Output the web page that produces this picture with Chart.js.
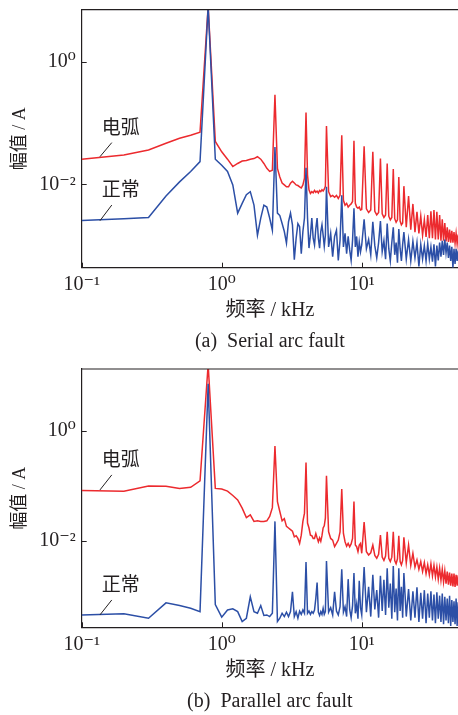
<!DOCTYPE html>
<html>
<head>
<meta charset="utf-8">
<script src="https://cdn.jsdelivr.net/npm/chart.js@4.4.1/dist/chart.umd.min.js"></script>
<style>
  html, body { margin: 0; padding: 0; background: #fff; }
  #wrap { width: 458px; height: 715px; overflow: hidden; }
  canvas { display: block; }
</style>
</head>
<body>
<div id="wrap">
  <canvas id="serialChart" width="458" height="360"></canvas>
  <canvas id="parallelChart" width="458" height="360"></canvas>
</div>
<script>
// frequency bins (kHz), shared by all four spectra
const freqKHz = [
  0.1, 0.2, 0.3, 0.4, 0.5, 0.6, 0.7, 0.8, 0.9, 1.0,
  1.1, 1.2, 1.3, 1.4, 1.5, 1.6, 1.7, 1.8, 1.9, 2.0,
  2.1, 2.2, 2.3, 2.4, 2.5, 2.6, 2.7, 2.8, 2.9, 3.0,
  3.1, 3.2, 3.3, 3.4, 3.5, 3.6, 3.7, 3.8, 3.9, 4.0,
  4.1, 4.2, 4.3, 4.4, 4.5, 4.6, 4.7, 4.8, 4.9, 5.0,
  5.1, 5.2, 5.3, 5.4, 5.5, 5.6,
  5.8, 6.0, 6.2, 6.4, 6.6, 6.8, 7.0, 7.2, 7.4, 7.6, 7.8,
  8.0, 8.2, 8.4, 8.6, 8.8, 9.0, 9.2, 9.4, 9.6, 9.8, 10.0,
  10.4, 10.8, 11.2, 11.6, 12.0, 12.4, 12.8, 13.2, 13.6, 14.0, 14.4, 14.8,
  15.2, 15.6, 16.0, 16.4, 16.8, 17.2, 17.6, 18.0, 18.4, 18.8, 19.2, 19.6, 20.0,
  20.8, 21.6, 22.4, 23.2, 24.0, 24.8, 25.6, 26.4, 27.2, 28.0, 28.8, 29.6,
  30.4, 31.2, 32.0, 32.8, 33.6, 34.4, 35.2, 36.0, 36.8, 37.6, 38.4, 39.2,
  40.0, 40.8, 41.6, 42.4, 43.2, 44.0, 44.8, 45.6, 46.4, 47.2, 48.0, 48.8, 49.6,
];

// amplitudes as log10(A)
// (a) serial arc fault
const serialArcLog = [
  -1.59, -1.52, -1.44, -1.33, -1.25, -1.20, -1.15, 0.9, -1.30, -1.47,
  -1.59, -1.71, -1.66, -1.62, -1.61, -1.59, -1.58, -1.55, -1.59, -1.66,
  -1.74, -1.79, -1.77, -0.54, -1.74, -1.88, -1.98, -2.01, -2.04, -2.04,
  -1.98, -1.95, -1.98, -2.01, -2.02, -2.04, -2.06, -2.01, -1.90, -0.83,
  -1.85, -2.09, -2.15, -2.12, -2.14, -2.10, -2.13, -2.11, -2.14, -2.10,
  -2.12, -2.09, -2.11, -2.08, -2.03, -1.05,
  -2.12, -2.20, -2.18, -2.21, -2.18, -2.23, -2.18, -1.20, -2.26, -2.34, -2.31,
  -2.37, -2.34, -2.32, -2.28, -1.29, -2.31, -2.37, -2.39, -2.37, -2.42, -2.41,
  -1.38, -2.40, -2.46, -2.42, -1.47, -2.44, -2.50, -2.46, -1.58, -2.48, -2.54, -2.50,
  -1.66, -2.52, -2.58, -2.54, -1.75, -2.56, -2.62, -2.58, -1.88, -2.60, -2.66, -2.63, -2.03,
  -2.70, -2.19, -2.74, -2.32, -2.78, -2.45, -2.80, -2.52, -2.83, -2.58, -2.86, -2.50,
  -2.88, -2.44, -2.88, -2.42, -2.90, -2.45, -2.90, -2.50, -2.92, -2.57, -2.92, -2.63,
  -2.93, -2.70, -2.94, -2.74, -2.95, -2.76, -2.95, -2.78, -2.96, -2.80, -2.97, -2.82, -2.97,
];
const serialNormalLog = [
  -2.59, -2.56, -2.54, -2.19, -1.96, -1.79, -1.63, 0.9, -1.59, -1.69,
  -1.79, -2.01, -2.47, -2.31, -2.17, -2.12, -2.34, -2.83, -2.55, -2.34,
  -2.37, -2.55, -2.75, -1.39, -2.47, -2.51, -2.64, -2.77, -2.96, -2.61,
  -2.47, -2.66, -3.23, -2.88, -2.64, -2.69, -3.13, -2.77, -2.55, -1.73,
  -2.55, -3.04, -2.83, -2.55, -2.88, -2.99, -2.72, -2.55, -2.88, -3.04,
  -2.77, -2.66, -2.83, -3.01, -2.83, -2.04,
  -3.02, -2.80, -3.18, -2.85, -2.75, -3.24, -2.91, -2.18, -3.02, -2.80, -3.13,
  -2.85, -3.07, -3.24, -2.91, -2.39, -3.02, -2.85, -3.18, -2.94, -3.10, -2.99,
  -2.57, -3.05, -2.90, -3.15, -2.61, -3.00, -3.20, -2.95, -2.60, -3.10, -2.92, -3.22,
  -2.64, -3.05, -3.25, -2.95, -2.70, -3.15, -2.95, -3.28, -2.73, -3.05, -3.25, -2.98, -2.78,
  -3.22, -2.90, -3.25, -2.93, -3.20, -2.95, -3.34, -2.98, -3.22, -3.00, -3.25, -2.97,
  -3.22, -3.02, -3.26, -2.98, -3.34, -3.00, -3.24, -2.95, -3.18, -2.92, -3.15, -2.90,
  -3.12, -2.95, -3.20, -3.00, -3.25, -3.02, -3.36, -3.05, -3.30, -3.05, -3.25, -3.08, -3.15,
];
// (b) parallel arc fault
const parallelArcLog = [
  -1.09, -1.10, -1.005, -1.01, -1.05, -1.03, -0.915, 1.2, -1.05, -1.06,
  -1.10, -1.18, -1.26, -1.41, -1.58, -1.53, -1.65, -1.64, -1.65, -1.65,
  -1.64, -1.56, -1.40, -0.28, -1.29, -1.47, -1.64, -1.60, -1.74, -1.77,
  -1.80, -1.83, -1.93, -1.91, -1.96, -2.05, -1.90, -1.65, -1.50, -0.58,
  -1.68, -1.77, -1.90, -1.91, -1.96, -1.96, -1.87, -1.95, -2.02, -1.95,
  -2.01, -1.91, -1.77, -1.73, -1.59, -0.82,
  -1.84, -1.96, -1.99, -2.11, -2.05, -1.99, -1.84, -1.06, -1.87, -2.02, -2.10,
  -2.05, -2.11, -2.06, -1.96, -1.29, -2.08, -2.11, -2.20, -2.08, -2.05, -2.23,
  -1.66, -2.20, -2.26, -2.22, -2.08, -2.27, -2.32, -2.25, -1.90, -2.30, -2.36, -2.28,
  -1.84, -2.32, -2.38, -2.30, -1.84, -2.36, -2.42, -2.33, -1.91, -2.38, -2.44, -2.36, -1.94,
  -2.40, -2.08, -2.45, -2.23, -2.48, -2.35, -2.52, -2.38, -2.56, -2.40, -2.60, -2.44,
  -2.62, -2.42, -2.64, -2.45, -2.66, -2.48, -2.70, -2.50, -2.72, -2.52, -2.75, -2.55,
  -2.78, -2.56, -2.80, -2.58, -2.82, -2.60, -2.83, -2.60, -2.84, -2.62, -2.82, -2.63, -2.70,
];
const parallelNormalLog = [
  -3.35, -3.33, -3.41, -3.13, -3.18, -3.23, -3.29, 0.85, -3.16, -3.39,
  -3.26, -3.24, -3.29, -3.47, -3.41, -3.02, -3.29, -3.32, -3.18, -3.36,
  -3.35, -3.38, -3.32, -1.65, -3.47, -3.41, -3.32, -3.38, -3.30, -3.38,
  -3.29, -2.93, -3.38, -3.29, -3.41, -3.28, -3.34, -3.26, -3.32, -2.39,
  -3.32, -3.28, -3.34, -3.29, -3.32, -3.26, -3.05, -2.76, -3.30, -3.36,
  -3.29, -3.34, -3.23, -3.34, -3.29, -2.37,
  -3.30, -3.22, -3.35, -2.93, -3.28, -3.35, -3.20, -2.52, -3.30, -3.20, -3.38,
  -2.70, -3.25, -3.40, -3.18, -2.59, -3.32, -3.15, -3.42, -2.73, -3.22, -3.35,
  -2.48, -3.30, -2.84, -3.38, -2.62, -3.25, -2.90, -3.40, -2.64, -3.28, -2.71, -3.35,
  -2.50, -3.22, -2.78, -3.42, -2.46, -3.30, -2.87, -3.45, -2.50, -3.28, -2.84, -3.40, -2.59,
  -3.38, -2.88, -3.45, -2.92, -3.40, -2.85, -3.48, -2.95, -3.42, -2.90, -3.50, -2.96,
  -3.40, -2.92, -3.45, -2.98, -3.50, -2.94, -3.42, -3.00, -3.48, -2.96, -3.52, -3.02,
  -3.45, -3.05, -3.50, -3.00, -3.55, -3.08, -3.48, -3.10, -3.52, -3.05, -3.55, -3.12, -3.30,
];

const seriesNames = ["电弧", "正常"];
const xTickValues = [0.1, 1, 10];
const xTickLabels = ["10⁻¹", "10⁰", "10¹"];
const yTickValues = [0.01, 1];
const yTickLabels = ["10⁻²", "10⁰"];

const RED = "#ec2a2e";
const BLUE = "#2c4fa6";
const INK = "#231f20";
const SERIF = "'Liberation Serif', 'DejaVu Serif', serif";
const MIXED = "'Liberation Serif', 'Noto Sans CJK SC', serif";
const CJK = "'Noto Sans CJK SC', sans-serif";

function toPoints(logs) {
  return freqKHz.map((f, i) => ({ x: f, y: Math.pow(10, logs[i]) }));
}

function labelFor(values, labels, v) {
  const i = values.findIndex((t) => Math.abs(t - v) < 1e-9);
  return i >= 0 ? labels[i] : "";
}

// top frame, inward tick marks, leader notes and caption
const extrasPlugin = {
  id: "extras",
  afterDraw(chart, args, opts) {
    const { ctx, chartArea: a, scales } = chart;
    ctx.save();
    ctx.strokeStyle = INK;
    ctx.lineWidth = 1.2;
    ctx.beginPath();
    ctx.moveTo(a.left, a.top);
    ctx.lineTo(a.right, a.top);
    ctx.stroke();

    ctx.lineWidth = 1;
    scales.x.ticks.forEach((t) => {
      const px = Math.round(scales.x.getPixelForValue(t.value)) + 0.5;
      ctx.beginPath();
      ctx.moveTo(px, a.bottom);
      ctx.lineTo(px, a.bottom - 5);
      ctx.stroke();
    });
    scales.y.ticks.forEach((t) => {
      const py = Math.round(scales.y.getPixelForValue(t.value)) + 0.5;
      ctx.beginPath();
      ctx.moveTo(a.left, py);
      ctx.lineTo(a.left + 5, py);
      ctx.stroke();
    });

    ctx.fillStyle = INK;
    ctx.font = "19px " + CJK;
    ctx.textAlign = "left";
    ctx.textBaseline = "middle";
    opts.notes.forEach((n) => {
      const x0 = scales.x.getPixelForValue(n.from[0]);
      const y0 = scales.y.getPixelForValue(n.from[1]);
      const x1 = scales.x.getPixelForValue(n.to[0]);
      const y1 = scales.y.getPixelForValue(n.to[1]);
      ctx.beginPath();
      ctx.moveTo(x0, y0);
      ctx.lineTo(x1, y1);
      ctx.stroke();
      ctx.fillText(n.text, x1 - 10, y1 - 16);
    });

    ctx.font = "20px " + SERIF;
    ctx.textAlign = "center";
    ctx.fillText(opts.caption, (a.left + a.right) / 2, a.bottom + 74);
    ctx.restore();
  },
};

function makePanel(id, arcLog, normalLog, yExp, topPx, bottomPx, caption, notes) {
  new Chart(document.getElementById(id), {
    type: "line",
    data: {
      datasets: [
        {
          label: seriesNames[1],
          data: toPoints(normalLog),
          borderColor: BLUE,
          borderWidth: 1.5,
          pointRadius: 0,
          tension: 0,
          order: 0,
        },
        {
          label: seriesNames[0],
          data: toPoints(arcLog),
          borderColor: RED,
          borderWidth: 1.5,
          pointRadius: 0,
          tension: 0,
          order: 1,
        },
      ],
    },
    options: {
      responsive: false,
      animation: false,
      devicePixelRatio: 1,
      layout: { padding: { top: topPx, left: 0, right: 0, bottom: 0 } },
      plugins: {
        legend: { display: false },
        tooltip: { enabled: false },
        extras: { caption: caption, notes: notes },
      },
      scales: {
        x: {
          type: "logarithmic",
          min: 0.1,
          max: 48.7,
          afterBuildTicks: (s) => {
            s.ticks = xTickValues.map((v) => ({ value: v }));
          },
          afterFit: (s) => {
            s.height = 360 - bottomPx;
            s.paddingLeft = 0;
            s.paddingRight = 0;
          },
          grid: { display: false, drawTicks: false },
          border: { display: true, color: INK, width: 1.2 },
          ticks: {
            autoSkip: false,
            maxRotation: 0,
            padding: 5,
            color: INK,
            font: { family: SERIF, size: 20 },
            callback: (v) => labelFor(xTickValues, xTickLabels, v),
          },
          title: {
            display: true,
            text: "频率 / kHz",
            color: INK,
            font: { family: MIXED, size: 20 },
            padding: { top: 0, bottom: 37.5 },
          },
        },
        y: {
          type: "logarithmic",
          min: Math.pow(10, yExp[0]),
          max: Math.pow(10, yExp[1]),
          afterBuildTicks: (s) => {
            s.ticks = yTickValues.map((v) => ({ value: v }));
          },
          afterFit: (s) => {
            s.width = 81.7;
            s.paddingTop = 0;
            s.paddingBottom = 0;
          },
          grid: { display: false, drawTicks: false },
          border: { display: true, color: INK, width: 1.2 },
          ticks: {
            autoSkip: false,
            padding: 6,
            color: INK,
            font: { family: SERIF, size: 20 },
            callback: (v) => labelFor(yTickValues, yTickLabels, v),
          },
          title: {
            display: true,
            text: "幅值 / A",
            color: INK,
            font: { family: MIXED, size: 18 },
            padding: { top: 9.2, bottom: 0 },
          },
        },
      },
    },
    plugins: [extrasPlugin],
  });
}

makePanel("serialChart", serialArcLog, serialNormalLog, [-3.36, 0.848], 9.7, 267.7,
  "(a)  Serial arc fault", [
    { text: seriesNames[0], from: [0.135, Math.pow(10, -1.55)], to: [0.164, Math.pow(10, -1.32)] },
    { text: seriesNames[1], from: [0.135, Math.pow(10, -2.594)], to: [0.164, Math.pow(10, -2.338)] },
  ]);

makePanel("parallelChart", parallelArcLog, parallelNormalLog, [-3.575, 1.12], 9.0, 267.3,
  "(b)  Parallel arc fault", [
    { text: seriesNames[0], from: [0.135, Math.pow(10, -1.078)], to: [0.164, Math.pow(10, -0.805)] },
    { text: seriesNames[1], from: [0.135, Math.pow(10, -3.35)], to: [0.164, Math.pow(10, -3.078)] },
  ]);
</script>
</body>
</html>
